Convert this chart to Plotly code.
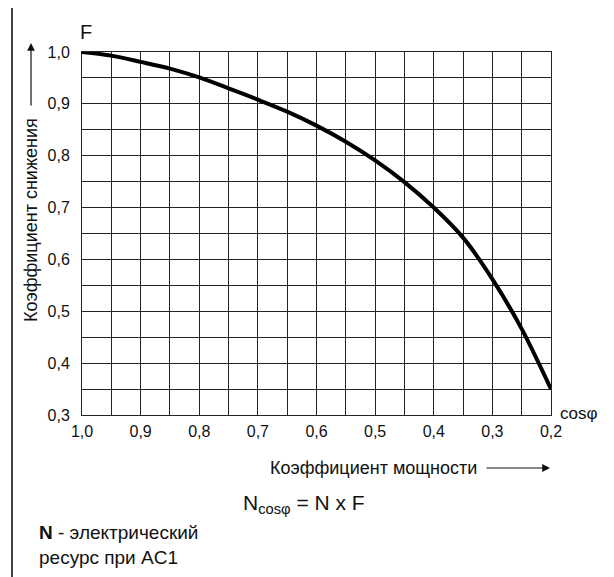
import plotly.graph_objects as go

# Data
cos_phi = [1.0, 0.95, 0.9, 0.85, 0.8, 0.75, 0.7, 0.65, 0.6, 0.55, 0.5, 0.45, 0.4, 0.35, 0.3, 0.25, 0.2]
factor_F = [1.0, 0.993, 0.981, 0.968, 0.951, 0.930, 0.908, 0.885, 0.858, 0.827, 0.791, 0.749, 0.700, 0.642, 0.562, 0.466, 0.350]

x_tick_vals = [1.0, 0.9, 0.8, 0.7, 0.6, 0.5, 0.4, 0.3, 0.2]
x_tick_text = ["1,0", "0,9", "0,8", "0,7", "0,6", "0,5", "0,4", "0,3", "0,2"]
y_tick_vals = [1.0, 0.9, 0.8, 0.7, 0.6, 0.5, 0.4, 0.3]
y_tick_text = ["1,0", "0,9", "0,8", "0,7", "0,6", "0,5", "0,4", "0,3"]

W, H = 614, 577
OFF = 8  # default page body margin
L, R, T, B = 82, 551, 52, 415


def px(x):
    return (x - L) / (R - L)


def py(y):
    return (B - y) / (B - T)


FONT = "Liberation Sans, Arial, sans-serif"
GRID = "#222222"

fig = go.Figure()
fig.add_trace(go.Scatter(
    x=cos_phi, y=factor_F, mode="lines",
    line=dict(color="#000000", width=4, shape="spline", smoothing=0.8),
    hoverinfo="skip", showlegend=False,
))

fig.update_layout(
    width=W - OFF, height=H - OFF,
    margin=dict(l=L - OFF, r=W - R, t=T - OFF, b=H - B, pad=0),
    paper_bgcolor="white", plot_bgcolor="white",
    font=dict(family=FONT, size=16, color="#111111"),
    showlegend=False,
)

fig.update_xaxes(
    range=[1.0, 0.2], autorange=False,
    tickmode="array", tickvals=x_tick_vals, ticktext=x_tick_text,
    showgrid=True, gridcolor=GRID, gridwidth=1,
    minor=dict(dtick=0.05, showgrid=True, gridcolor=GRID, gridwidth=1, tick0=0.2),
    showline=True, linecolor=GRID, linewidth=1, mirror=True,
    ticks="", ticklabelstandoff=2, zeroline=False,
    tickfont=dict(size=16, family=FONT),
)
fig.update_yaxes(
    range=[0.3, 1.0], autorange=False,
    tickmode="array", tickvals=y_tick_vals, ticktext=y_tick_text,
    showgrid=True, gridcolor=GRID, gridwidth=1,
    minor=dict(dtick=0.05, showgrid=True, gridcolor=GRID, gridwidth=1, tick0=0.3),
    showline=True, linecolor=GRID, linewidth=1, mirror=True,
    ticks="", ticklabelstandoff=8, zeroline=False,
    tickfont=dict(size=16, family=FONT),
)

# Outer frame (left, top, right edges)
frame = dict(color="#444444", width=2)
fig.add_shape(type="line", xref="paper", yref="paper", x0=px(12), x1=px(12), y0=py(3), y1=py(590), line=frame)
fig.add_shape(type="line", xref="paper", yref="paper", x0=px(12), x1=px(610), y0=py(3), y1=py(3), line=frame)
fig.add_shape(type="line", xref="paper", yref="paper", x0=px(610), x1=px(610), y0=py(3), y1=py(590), line=frame)

ann = []
# F label
ann.append(dict(text="F", x=px(86), y=py(32), xref="paper", yref="paper",
                showarrow=False, font=dict(size=20), xanchor="center", yanchor="middle"))
# cos phi label
ann.append(dict(text="cosφ", x=px(578), y=py(413), xref="paper", yref="paper",
                showarrow=False, font=dict(size=17), xanchor="center", yanchor="middle"))
# Y title
ann.append(dict(text="Коэффициент снижения", x=px(31), y=py(220), xref="paper", yref="paper",
                textangle=-90, showarrow=False, font=dict(size=18),
                xanchor="center", yanchor="middle"))
ann.append(dict(text="", x=px(31), y=py(43), xref="paper", yref="paper",
                showarrow=True, ax=0, ay=64, arrowhead=2, arrowsize=1.3, arrowwidth=1.2,
                arrowcolor="#111111"))
# X title
ann.append(dict(text="Коэффициент мощности", x=px(373), y=py(468), xref="paper", yref="paper",
                showarrow=False, font=dict(size=18), xanchor="center", yanchor="middle"))
ann.append(dict(text="", x=px(550), y=py(468), xref="paper", yref="paper",
                showarrow=True, ax=-65, ay=0, arrowhead=2, arrowsize=1.3, arrowwidth=1.2,
                arrowcolor="#111111"))
# Formula
ann.append(dict(text="N<sub>cosφ</sub> = N x F", x=px(241), y=py(504), xref="paper", yref="paper",
                showarrow=False, font=dict(size=21), xanchor="left", yanchor="middle"))
# Note
ann.append(dict(text="<b>N</b> - электрический<br>ресурс при AC1", x=px(37), y=py(545),
                xref="paper", yref="paper", showarrow=False, font=dict(size=19),
                xanchor="left", yanchor="middle", align="left"))

fig.update_layout(annotations=ann)

fig.write_html("out.html")
